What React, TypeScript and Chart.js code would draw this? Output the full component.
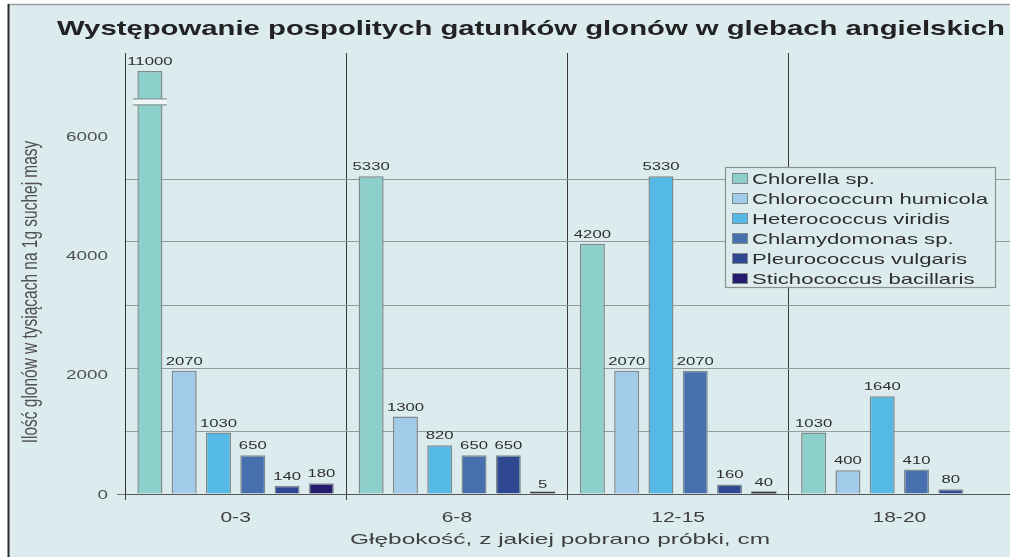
import React, { useEffect, useRef } from "react";
import { Chart, registerables } from "chart.js";

Chart.register(...registerables);

const categories = ["0-3", "6-8", "12-15", "18-20"];
const seriesNames = [
  "Chlorella sp.",
  "Chlorococcum humicola",
  "Heterococcus viridis",
  "Chlamydomonas sp.",
  "Pleurococcus vulgaris",
  "Stichococcus bacillaris",
];
const chlorella: (number | null)[] = [11000, 5330, 4200, 1030];
const chlorococcum: (number | null)[] = [2070, 1300, 2070, 400];
const heterococcus: (number | null)[] = [1030, 820, 5330, 1640];
const chlamydomonas: (number | null)[] = [650, 650, 2070, 410];
const pleurococcus: (number | null)[] = [140, 650, 160, 80];
const stichococcus: (number | null)[] = [180, 5, 40, null];
const yTickLabels = [0, 2000, 4000, 6000];

const titleText = "Występowanie pospolitych gatunków glonów w glebach angielskich";
const xTitleText = "Głębokość, z jakiej pobrano próbki, cm";
const yTitleText = "Ilość glonów w tysiącach na 1g suchej masy";

const seriesValues = [chlorella, chlorococcum, heterococcus, chlamydomonas, pleurococcus, stichococcus];
const colors = ["#8dcfcb", "#a2cae9", "#55b9e6", "#4870ae", "#2f4892", "#241b6e"];

// axis break settings (visual)
const Y_MAX = 7400;
const BREAK_CAP = 7100;
const BREAK_AT = 6580;

const BG = "#dcecee";
const FONT = "'Liberation Sans', Arial, sans-serif";
const SX = 1.45;

function measure(ctx: CanvasRenderingContext2D, text: string, font: string) {
  ctx.save();
  ctx.font = font;
  const w = ctx.measureText(text).width;
  ctx.restore();
  return w;
}

function drawText(
  ctx: CanvasRenderingContext2D,
  text: string,
  x: number,
  y: number,
  font: string,
  color: string,
  sx: number,
  align: "left" | "center" | "right"
) {
  ctx.save();
  ctx.font = font;
  ctx.fillStyle = color;
  ctx.textBaseline = "alphabetic";
  ctx.textAlign = "left";
  const w = ctx.measureText(text).width * sx;
  const x0 = align === "left" ? x : align === "center" ? x - w / 2 : x - w;
  ctx.translate(x0, y);
  ctx.scale(sx, 1);
  ctx.fillText(text, 0, 0);
  ctx.restore();
}

const bgPlugin = {
  id: "bgPlugin",
  beforeDraw(chart: any) {
    const ctx: CanvasRenderingContext2D = chart.ctx;
    ctx.save();
    ctx.fillStyle = "#ffffff";
    ctx.fillRect(0, 0, chart.width, chart.height);
    ctx.fillStyle = BG;
    ctx.fillRect(8, 4, chart.width - 8, chart.height - 4);
    ctx.strokeStyle = "#9a9fa0";
    ctx.lineWidth = 1.5;
    ctx.beginPath();
    ctx.moveTo(8, 4.5);
    ctx.lineTo(chart.width, 4.5);
    ctx.stroke();
    ctx.strokeStyle = "#2a2a2a";
    ctx.lineWidth = 2;
    ctx.beginPath();
    ctx.moveTo(8.5, 4);
    ctx.lineTo(8.5, chart.height);
    ctx.stroke();
    ctx.restore();
  },
};

const labelPlugin = {
  id: "labelPlugin",
  afterDatasetsDraw(chart: any) {
    const ctx: CanvasRenderingContext2D = chart.ctx;
    const y = chart.scales.y;
    // axis break on capped bars, and thin outline for near-zero bars
    seriesValues.forEach((vals, di) => {
      const meta = chart.getDatasetMeta(di);
      vals.forEach((v, i) => {
        if (v === null) return;
        const el = meta.data[i];
        if (Math.abs(el.base - el.y) < 2) {
          ctx.save();
          ctx.strokeStyle = "#3a3a3a";
          ctx.lineWidth = 1.5;
          ctx.beginPath();
          ctx.moveTo(el.x - el.width / 2, el.base - 1);
          ctx.lineTo(el.x + el.width / 2, el.base - 1);
          ctx.stroke();
          ctx.restore();
        }
        if (v <= BREAK_CAP) return;
        const by = y.getPixelForValue(BREAK_AT);
        const half = el.width / 2 + 4.5;
        ctx.save();
        ctx.fillStyle = "#eef6f7";
        ctx.fillRect(el.x - half, by - 3, half * 2, 6);
        ctx.strokeStyle = "#8a9597";
        ctx.lineWidth = 1.3;
        ctx.beginPath();
        ctx.moveTo(el.x - half, by - 3);
        ctx.lineTo(el.x + half, by - 3);
        ctx.moveTo(el.x - half, by + 3);
        ctx.lineTo(el.x + half, by + 3);
        ctx.stroke();
        ctx.restore();
      });
    });
    // value labels
    seriesValues.forEach((vals, di) => {
      const meta = chart.getDatasetMeta(di);
      vals.forEach((v, i) => {
        if (v === null) return;
        const el = meta.data[i];
        const top = Math.min(el.y, el.base);
        drawText(ctx, String(v), el.x, top - 6, `11.5px ${FONT}`, "#2e2e2e", SX, "center");
      });
    });
  },
  afterDraw(chart: any) {
    const ctx: CanvasRenderingContext2D = chart.ctx;
    const xs = chart.scales.x;
    const ys = chart.scales.y;
    // y tick labels
    yTickLabels.forEach((v) => {
      const py = ys.getPixelForValue(v);
      drawText(ctx, String(v), 108, py + 4.6, `13px ${FONT}`, "#505050", SX, "right");
    });
    // x tick labels
    categories.forEach((c, i) => {
      const px = xs.getPixelForValue(i);
      drawText(ctx, c, px, 522, `14.5px ${FONT}`, "#404040", SX, "center");
    });
    // x title
    const xtFont = `14.5px ${FONT}`;
    const xtSx = 420 / measure(ctx, xTitleText, xtFont);
    drawText(ctx, xTitleText, 560, 543.5, xtFont, "#404040", xtSx, "center");
    // title
    const tFont = `bold 21px ${FONT}`;
    const tSx = 948 / measure(ctx, titleText, tFont);
    drawText(ctx, titleText, 57, 35, tFont, "#222222", tSx, "left");
    // y title (rotated)
    const base = measure(ctx, yTitleText, `14px ${FONT}`);
    const ySize = (14 * 303) / base;
    ctx.save();
    ctx.translate(31, 292);
    ctx.scale(SX, 1);
    ctx.rotate(-Math.PI / 2);
    ctx.font = `${ySize}px ${FONT}`;
    ctx.fillStyle = "#505050";
    ctx.textAlign = "center";
    ctx.textBaseline = "middle";
    ctx.fillText(yTitleText, 0, 0);
    ctx.restore();
    // legend
    const lx = 725, ly = 167, lw = 270, lh = 120;
    ctx.save();
    ctx.fillStyle = BG;
    ctx.fillRect(lx, ly, lw, lh);
    ctx.strokeStyle = "#8c9090";
    ctx.lineWidth = 1.2;
    ctx.strokeRect(lx + 0.5, ly + 0.5, lw, lh);
    ctx.restore();
    const lFont = `14.5px ${FONT}`;
    const lSx = 236 / measure(ctx, seriesNames[1], lFont);
    seriesNames.forEach((name, i) => {
      const ry = 178 + i * 20;
      ctx.save();
      ctx.fillStyle = colors[i];
      ctx.fillRect(732, ry - 5, 15, 10);
      ctx.strokeStyle = "#7e8b8e";
      ctx.lineWidth = 1;
      ctx.strokeRect(732.5, ry - 4.5, 15, 10);
      ctx.restore();
      drawText(ctx, name, 752, ry + 5.5, lFont, "#2e2e2e", lSx, "left");
    });
  },
};

export default function App() {
  const ref = useRef<HTMLCanvasElement | null>(null);
  useEffect(() => {
    if (!ref.current) return;
    const chart = new Chart(ref.current, {
      type: "bar",
      data: {
        labels: categories,
        datasets: seriesValues.map((vals, i) => ({
          label: seriesNames[i],
          data: vals.map((v) => (v === null ? null : Math.min(v, BREAK_CAP))),
          backgroundColor: colors[i],
          borderColor: "#7e8b8e",
          borderWidth: 1.5,
          barPercentage: 0.73,
          categoryPercentage: 0.93,
        })),
      },
      options: {
        responsive: false,
        animation: false,
        devicePixelRatio: 1,
        layout: { padding: { top: 53, left: 0, right: 0, bottom: 0 } },
        plugins: {
          legend: { display: false },
          tooltip: { enabled: false },
          title: { display: false },
        },
        scales: {
          x: {
            offset: true,
            grid: {
              offset: true,
              color: "#3a3a3a",
              lineWidth: 1,
              tickLength: 6,
              drawOnChartArea: true,
              drawTicks: true,
            },
            border: { display: true, color: "#555555", width: 1 },
            ticks: { display: false },
            afterFit: (s: any) => {
              s.height = 63;
            },
          },
          y: {
            min: 0,
            max: Y_MAX,
            ticks: { display: false, stepSize: 1000 },
            grid: {
              color: (c: any) => {
                const v = c.tick ? c.tick.value : 0;
                if (v > 6000) return "rgba(0,0,0,0)";
                if (v === 0) return "#555555";
                return "#939b9d";
              },
              tickColor: (c: any) => {
                const v = c.tick ? c.tick.value : 0;
                if (v > 6000 || v % 2000 !== 0) return "rgba(0,0,0,0)";
                return "#777777";
              },
              tickLength: 8,
              lineWidth: 1,
            },
            border: { display: true, color: "#333333", width: 1 },
            afterFit: (s: any) => {
              s.width = 125;
            },
          },
        },
      },
      plugins: [bgPlugin, labelPlugin],
    } as any);
    return () => chart.destroy();
  }, []);
  return (
    <div style={{ position: "fixed", left: 0, top: 0, width: 1010, height: 557, overflow: "hidden" }}>
      <canvas ref={ref} width={1010} height={557} style={{ display: "block" }} />
    </div>
  );
}
